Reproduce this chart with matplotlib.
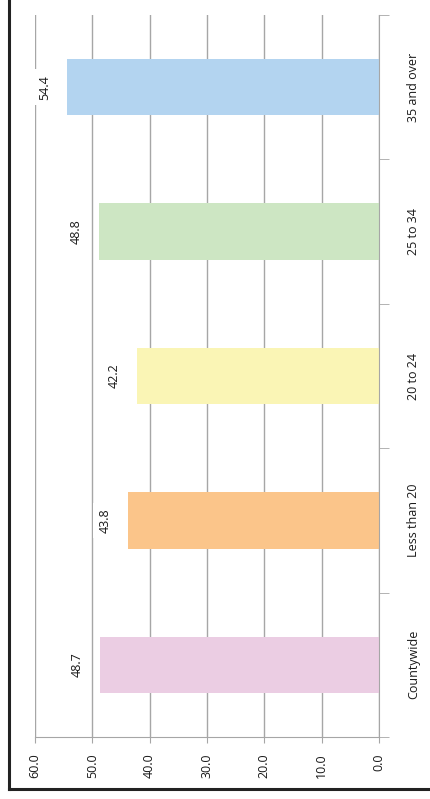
import matplotlib.pyplot as plt
from matplotlib.lines import Line2D

categories = ['Countywide', 'Less than 20', '20 to 24', '25 to 34', '35 and over']
values = [48.7, 43.8, 42.2, 48.8, 54.4]
colors = ['#ebcde3', '#fbc58a', '#faf5b5', '#cde6c3', '#b3d4f0']
xticks = [0, 10, 20, 30, 40, 50, 60]

plt.rcParams['font.family'] = ['Open Sans', 'DejaVu Sans']
grey = '#a6a6a6'
txt = '#1a1a1a'
fs = 9

fig = plt.figure(figsize=(4.3, 7.99), dpi=100)
ax = fig.add_axes([35/430, 1-737/799, (379-35)/430, (737-15)/799])

pos = range(len(categories))
ax.barh(pos, values, height=0.39, color=colors, zorder=2)

for p, v in zip(pos, values):
    ax.annotate(f'{v:.1f}', (v, p), xytext=(-16.5, 0), textcoords='offset points',
                rotation=90, ha='center', va='center', fontsize=fs, color=txt,
                bbox=dict(facecolor='white', edgecolor='none', pad=4), zorder=3)

ax.set_xlim(60, 0)
ax.set_ylim(-0.5, len(categories) - 0.5)
ax.set_xticks(xticks)
ax.set_xticklabels([f'{t:.1f}' for t in xticks], rotation=90, fontsize=fs, color=txt)
ax.tick_params(axis='x', length=4, color=grey, pad=8)
ax.grid(axis='x', color=grey, linewidth=1, zorder=1)

ax.yaxis.tick_right()
ax.set_yticks(list(pos))
ax.set_yticklabels(categories, rotation=90, va='center', fontsize=fs, color=txt)
ax.set_yticks([i - 0.5 for i in range(len(categories) + 1)], minor=True)
ax.tick_params(axis='y', which='major', length=0, pad=20)
ax.tick_params(axis='y', which='minor', length=7, color=grey)

for s in ['top', 'left']:
    ax.spines[s].set_visible(False)
for s in ['right', 'bottom']:
    ax.spines[s].set_color(grey)
ax.set_axisbelow(True)

fig.add_artist(Line2D([9/430, 9/430], [1-789/799, 1], color='#222222', linewidth=2.2))
fig.add_artist(Line2D([9/430, 1], [1-789/799, 1-789/799], color='#222222', linewidth=2.2))

fig.savefig('out.png', dpi=100)
